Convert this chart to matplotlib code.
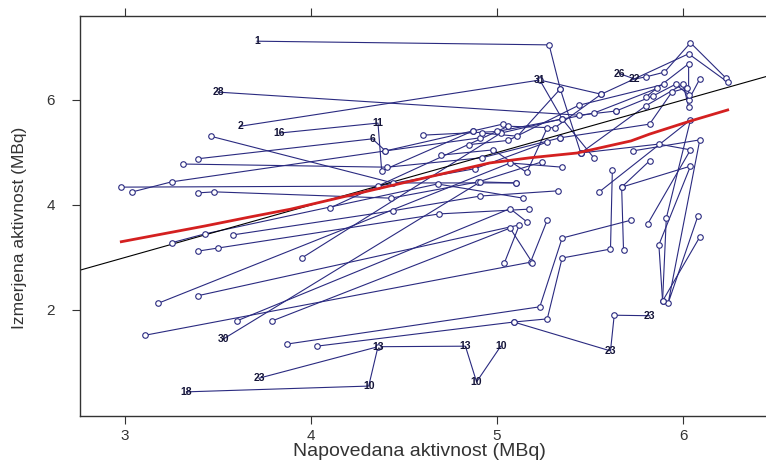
import matplotlib.pyplot as plt

plt.rcParams['font.family'] = ['Liberation Sans', 'DejaVu Sans']

# one trajectory per subject: predicted (x) vs measured (y) activity, MBq
subj_x = [
    [3.71, 5.28, 5.34, 5.45],
    [3.50, 5.44, 5.64],
    [3.62, 5.23, 5.35, 5.52],
    [3.83, 4.36, 4.38, 4.87],
    [3.46, 4.44, 5.10],
    [3.39, 4.33, 4.40, 4.91],
    [3.31, 4.41, 4.92, 5.34],
    [2.98, 4.36, 4.88, 5.27],
    [3.04, 3.25, 4.40, 4.87, 5.03],
    [3.39, 3.48, 4.43, 4.90, 5.24],
    [3.25, 3.43, 4.68, 5.14],
    [3.39, 3.50, 4.69, 5.17],
    [3.58, 4.44, 4.91, 5.33],
    [3.18, 5.07, 5.35],
    [3.39, 5.12, 5.04],
    [3.11, 5.18, 5.27],
    [3.60, 5.07, 5.16],
    [3.79, 5.07, 5.19],
    [3.53, 4.91, 5.10],
    [3.87, 5.23, 5.35, 5.72],
    [4.03, 5.09, 5.61, 5.63, 5.82],
    [5.09, 5.27, 5.35, 5.61, 5.62],
    [3.72, 4.36],
    [3.33, 4.31, 4.36, 4.83, 4.89, 5.02],
    [5.66, 5.74, 5.80, 5.90, 6.04, 6.23],
    [5.23, 5.56, 6.03, 6.24],
    [5.80, 6.03, 6.03, 6.09],
    [5.64, 5.84, 5.96, 6.03],
    [5.45, 5.80, 6.00, 6.03],
    [5.34, 5.82, 5.94, 6.02],
    [5.55, 6.04, 5.91, 5.89],
    [5.73, 6.09, 5.92, 6.08],
    [5.67, 6.04, 5.87, 5.89, 6.09],
    [5.82, 5.67, 5.68],
    [5.45, 5.87, 6.04, 5.81],
    [3.95, 5.02, 5.35],
    [4.10, 5.06, 5.31, 5.56],
    [4.92, 5.11, 5.34],
    [4.85, 5.06, 5.44, 5.90],
    [4.70, 4.98, 5.16, 5.27],
    [4.60, 5.00, 5.52, 5.86],
]
subj_y = [
    [7.12, 7.05, 6.21, 4.99],
    [6.15, 5.71, 5.79],
    [5.50, 6.38, 5.64, 4.90],
    [5.37, 5.56, 4.65, 5.41],
    [5.31, 4.42, 4.42],
    [4.88, 5.26, 5.03, 5.28],
    [4.78, 4.72, 4.90, 5.28],
    [4.34, 4.36, 4.69, 5.20],
    [4.25, 4.44, 5.03, 5.41, 5.54],
    [4.23, 4.25, 4.13, 4.44, 4.82],
    [3.28, 3.45, 4.40, 4.13],
    [3.12, 3.18, 3.83, 3.92],
    [3.43, 3.89, 4.17, 4.27],
    [2.13, 4.80, 4.72],
    [2.27, 3.62, 2.90],
    [1.52, 2.91, 3.71],
    [1.79, 3.93, 3.68],
    [1.79, 3.56, 2.90],
    [1.45, 4.44, 4.42],
    [1.35, 2.06, 3.37, 3.71],
    [1.31, 1.77, 1.22, 1.90, 1.89],
    [1.77, 1.83, 2.99, 3.16, 4.67],
    [0.70, 1.30],
    [0.44, 0.55, 1.30, 1.31, 0.63, 1.31],
    [6.50, 6.40, 6.44, 6.53, 7.09, 6.42],
    [6.38, 6.11, 6.88, 6.34],
    [6.06, 6.69, 6.00, 6.40],
    [5.79, 6.08, 6.30, 6.10],
    [4.99, 5.89, 6.30, 5.87],
    [5.28, 5.54, 6.15, 6.23],
    [4.25, 5.62, 3.75, 2.17],
    [5.03, 5.24, 2.13, 3.79],
    [4.34, 4.74, 3.24, 2.17, 3.39],
    [4.84, 4.34, 3.14],
    [4.99, 5.16, 5.05, 3.64],
    [2.99, 5.37, 5.64],
    [3.94, 5.50, 5.47, 6.11],
    [5.37, 5.31, 6.21],
    [5.15, 5.23, 5.90, 6.30],
    [4.95, 5.05, 4.62, 5.47],
    [5.33, 5.40, 5.75, 6.22],
]
# subject number printed in place of the circle ('' = circle)
subj_lab = [
    ['1', '', '', ''],
    ['28', '', ''],
    ['2', '31', '', ''],
    ['16', '11', '', ''],
    ['', '', ''],
    ['', '6', '', ''],
    ['', '', '', ''],
    ['', '', '', ''],
    ['', '', '', '', ''],
    ['', '', '', '', ''],
    ['', '', '', ''],
    ['', '', '', ''],
    ['', '', '', ''],
    ['', '', ''],
    ['', '', ''],
    ['', '', ''],
    ['', '', ''],
    ['', '', ''],
    ['30', '', ''],
    ['', '', '', ''],
    ['', '', '23', '', '23'],
    ['', '', '', '', ''],
    ['23', ''],
    ['18', '10', '13', '13', '10', '10'],
    ['26', '22', '', '', '', ''],
    ['', '', '', ''],
    ['', '', '', ''],
    ['', '', '', ''],
    ['', '', '', ''],
    ['', '', '', ''],
    ['', '', '', ''],
    ['', '', '', ''],
    ['', '', '', '', ''],
    ['', '', ''],
    ['', '', '', ''],
    ['', '', ''],
    ['', '', '', ''],
    ['', '', ''],
    ['', '', '', ''],
    ['', '', '', ''],
    ['', '', '', ''],
]

# loess-type smooth through all points
smooth_x = [2.98, 3.43, 3.67, 3.89, 4.42, 4.96, 5.18, 5.43, 5.72, 5.82, 6.04, 6.24]
smooth_y = [3.30, 3.60, 3.77, 3.92, 4.36, 4.80, 4.90, 4.99, 5.22, 5.35, 5.60, 5.81]

navy = '#2a2a80'

fig = plt.figure(figsize=(7.66, 4.62), dpi=100)
ax = fig.add_axes([80 / 766, 46 / 462, 686 / 766, 400 / 462])

for xs, ys, labs in zip(subj_x, subj_y, subj_lab):
    ax.plot(xs, ys, '-', color=navy, lw=0.8, zorder=2)
    for x, y, lab in zip(xs, ys, labs):
        if lab:
            ax.text(x, y, lab, ha='center', va='center', fontsize=7.5,
                    fontweight='bold', color='#141438', zorder=4)
        else:
            ax.plot(x, y, 'o', ms=4, mfc='white', mec=navy, mew=0.8, zorder=3)

ax.axline((0, 0), slope=1, color='black', lw=0.8, zorder=2)
ax.plot(smooth_x, smooth_y, color='#d42020', lw=2, zorder=5)

ax.set_xlim(2.758, 6.446)
ax.set_ylim(-0.02, 7.6)
ax.set_xticks([3, 4, 5, 6])
ax.set_yticks([2, 4, 6])
ax.tick_params(direction='out', length=6, width=0.8, colors='#333333',
               labelsize=11, top=True, labeltop=False, right=False)
ax.tick_params(axis='y', pad=12)
for side in ['left', 'bottom', 'top']:
    ax.spines[side].set_color('#333333')
    ax.spines[side].set_linewidth(1)
ax.spines['right'].set_visible(False)

fig.text(419 / 766, 1 - 452 / 462, 'Napovedana aktivnost (MBq)', ha='center',
         va='center', fontsize=14, color='#333333')
fig.text(20 / 766, 1 - 228 / 462, 'Izmerjena aktivnost (MBq)', ha='center',
         va='center', rotation=90, fontsize=12.5, color='#333333')

fig.savefig('out.png', dpi=100)
